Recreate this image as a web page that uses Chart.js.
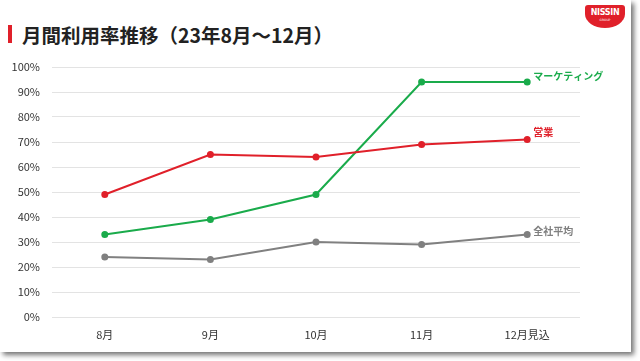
<!DOCTYPE html>
<html lang="ja">
<head>
  <meta charset="UTF-8" />
  <title>月間利用率推移</title>
  <script src="https://cdn.jsdelivr.net/npm/chart.js"></script>
  <style>
    html, body { margin: 0; padding: 0; background: #fff; }
    body { width: 640px; height: 361px; position: relative; overflow: hidden; font-family: "Noto Sans CJK JP", "Noto Sans", sans-serif; }
    .slide { position: absolute; left: 0; top: 0; width: 631px; height: 352px; background: #fff; box-shadow: 3px 3px 5px rgba(0,0,0,0.55); }
    .title { position: absolute; left: 22px; top: 20px; font-size: 19.5px; font-weight: bold; color: #222; }
    .title-bar { position: absolute; left: 8px; top: 25px; width: 4px; height: 18px; background: #e0202a; }
    .logo { position: absolute; left: 585px; top: 5px; width: 40px; height: 23px; background: #e0202a; border-radius: 3px 3px 20px 20px / 3px 3px 14px 14px; color: #fff; text-align: center; }
    .logo .n { font: bold 8px "DejaVu Sans", sans-serif; line-height: 11px; letter-spacing: -0.3px; padding-top: 2px; }
    .logo .g { font: 3px "DejaVu Sans", sans-serif; line-height: 4px; }
    #wrap { position: absolute; left: 0; top: 0; width: 640px; height: 361px; }
  </style>
</head>
<body>
  <div class="slide"></div>
  <div class="title-bar"></div>
  <div class="title">月間利用率推移（23年8月～12月）</div>
  <div class="logo"><div class="n">NISSIN</div><div class="g">GROUP</div></div>
  <div id="wrap"><canvas id="usageChart" width="640" height="361"></canvas></div>

  <script>
    const months = ['8月', '9月', '10月', '11月', '12月見込'];
    const sales = [49, 65, 64, 69, 71];
    const marketing = [33, 39, 49, 94, 94];
    const companyAvg = [24, 23, 30, 29, 33];
    const seriesNames = ['営業', 'マーケティング', '全社平均'];

    const RED = '#e0202a';
    const GREEN = '#1aab4b';
    const GRAY = '#808080';

    // series name drawn to the right of the last point
    const endLabels = {
      id: 'endLabels',
      afterDatasetsDraw(chart) {
        const { ctx } = chart;
        chart.data.datasets.forEach((ds, i) => {
          const meta = chart.getDatasetMeta(i);
          const last = meta.data[meta.data.length - 1];
          ctx.save();
          ctx.font = 'bold 10px "Noto Sans CJK JP"';
          ctx.fillStyle = ds.borderColor;
          ctx.textBaseline = 'middle';
          ctx.fillText(ds.label, last.x + 6, last.y + ds.labelDy);
          ctx.restore();
        });
      }
    };

    function line(label, data, color, labelDy) {
      return {
        label, data, labelDy,
        borderColor: color,
        backgroundColor: color,
        borderWidth: 2,
        pointRadius: 2.5,
        pointHoverRadius: 2.5,
        tension: 0
      };
    }

    new Chart(document.getElementById('usageChart'), {
      type: 'line',
      data: {
        labels: months,
        datasets: [
          line(seriesNames[0], sales, RED, -7),
          line(seriesNames[1], marketing, GREEN, -6),
          line(seriesNames[2], companyAvg, GRAY, -3)
        ]
      },
      plugins: [endLabels],
      options: {
        responsive: false,
        animation: false,
        layout: { padding: { left: 0, right: 60, top: 67, bottom: 0 } },
        plugins: { legend: { display: false }, tooltip: { enabled: false } },
        scales: {
          x: {
            offset: true,
            grid: { display: false, drawTicks: false },
            border: { display: false },
            ticks: { color: '#333', padding: 11, font: { family: 'Noto Sans CJK JP', size: 11 } },
            afterFit(scale) { scale.height = 44; }
          },
          y: {
            min: 0,
            max: 100,
            ticks: {
              stepSize: 10,
              color: '#333',
              padding: 12,
              font: { family: 'Noto Sans CJK JP', size: 11 },
              callback: v => v + '%'
            },
            grid: { color: '#e3e3e3', drawTicks: false },
            border: { display: false },
            afterFit(scale) { scale.width = 52; }
          }
        }
      }
    });
  </script>
</body>
</html>
